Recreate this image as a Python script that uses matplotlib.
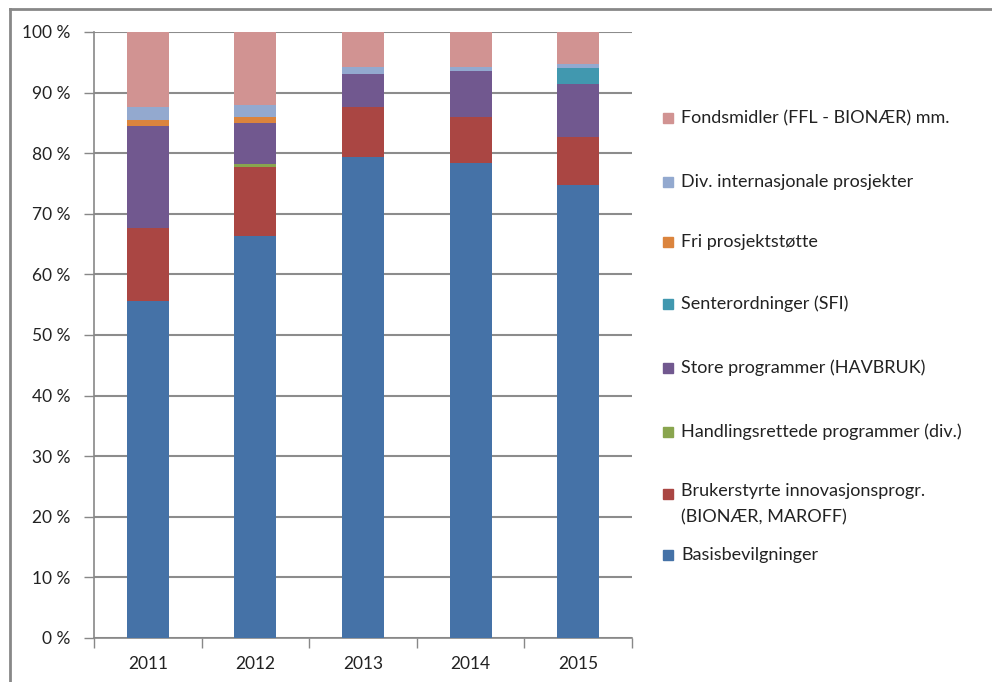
import matplotlib
matplotlib.use("Agg")
import matplotlib.pyplot as plt
from matplotlib.patches import Rectangle
from matplotlib.lines import Line2D
import numpy as np

plt.rcParams['font.family'] = ['Lato', 'DejaVu Sans']

years = ['2011', '2012', '2013', '2014', '2015']

# shares in percent, bottom to top
basis = [55.6, 66.4, 79.4, 78.4, 74.7]
bruker = [12.1, 11.4, 8.2, 7.5, 7.9]
handling = [0.0, 0.4, 0.0, 0.0, 0.0]
store = [16.8, 6.8, 5.4, 7.6, 8.8]
senter = [0.0, 0.0, 0.0, 0.0, 2.6]
fri = [1.0, 1.0, 0.0, 0.0, 0.0]
div_int = [2.1, 2.0, 1.2, 0.8, 0.7]
fond = [12.4, 12.0, 5.8, 5.7, 5.3]

labels = ['Basisbevilgninger',
          'Brukerstyrte innovasjonsprogr.\n(BIONÆR, MAROFF)',
          'Handlingsrettede programmer (div.)',
          'Store programmer (HAVBRUK)',
          'Senterordninger (SFI)',
          'Fri prosjektstøtte',
          'Div. internasjonale prosjekter',
          'Fondsmidler (FFL - BIONÆR) mm.']
series = [basis, bruker, handling, store, senter, fri, div_int, fond]
colors = ['#4572A7', '#AA4643', '#89A54E', '#71588F',
          '#4198AF', '#DB843D', '#93A9CF', '#D19392']

fig = plt.figure(figsize=(9.92, 6.82), dpi=100)
ax = fig.add_axes([94/992, 1 - 638/682, (632-94)/992, (638-32)/682])

x = np.arange(len(years))
bottom = np.zeros(len(years))
for vals, c in zip(series, colors):
    ax.bar(x, vals, width=0.39, bottom=bottom, color=c, zorder=3)
    bottom += np.array(vals)

ax.set_xlim(-0.5, len(years) - 0.5)
ax.set_ylim(0, 100)
ax.set_yticks(np.arange(0, 101, 10))
ax.set_yticklabels([f'{v} %' for v in range(0, 101, 10)], fontsize=12.5, color='#222222')
ax.set_xticks(x)
ax.set_xticklabels(years, fontsize=12.5, color='#222222')
ax.set_xticks(np.arange(-0.5, len(years)), minor=True)
ax.tick_params(axis='x', which='major', length=0, pad=13)
ax.tick_params(axis='x', which='minor', length=7, color='#888888', width=1)
ax.tick_params(axis='y', length=7, color='#888888', width=1, pad=10)
ax.grid(axis='y', color='#8c8c8c', linewidth=1.5, zorder=0)
for s in ['top', 'right']:
    ax.spines[s].set_visible(False)
for s in ['left', 'bottom']:
    ax.spines[s].set_color('#888888')
    ax.spines[s].set_linewidth(1.2)

# legend, drawn by hand to follow the original spacing
leg_y = [555, 494, 432, 368, 304, 242, 182, 118]
for lab, c, yy in zip(labels, colors, leg_y):
    fig.patches.append(Rectangle((663/992, 1 - (yy + 5)/682), 10/992, 10/682,
                                 transform=fig.transFigure, color=c))
    if '\n' in lab:
        fig.text(681/992, 1 - (yy - 11)/682, lab, fontsize=13, va='top',
                 ha='left', linespacing=1.75, color='#222222')
    else:
        fig.text(681/992, 1 - yy/682, lab, fontsize=13, va='center',
                 ha='left', color='#222222')

# frame around the chart
fig.add_artist(Line2D([10/992, 1], [1 - 9/682, 1 - 9/682], color='#888888', lw=2))
fig.add_artist(Line2D([10/992, 10/992], [0, 1 - 9/682], color='#888888', lw=2))

fig.savefig('out.png', dpi=100)
